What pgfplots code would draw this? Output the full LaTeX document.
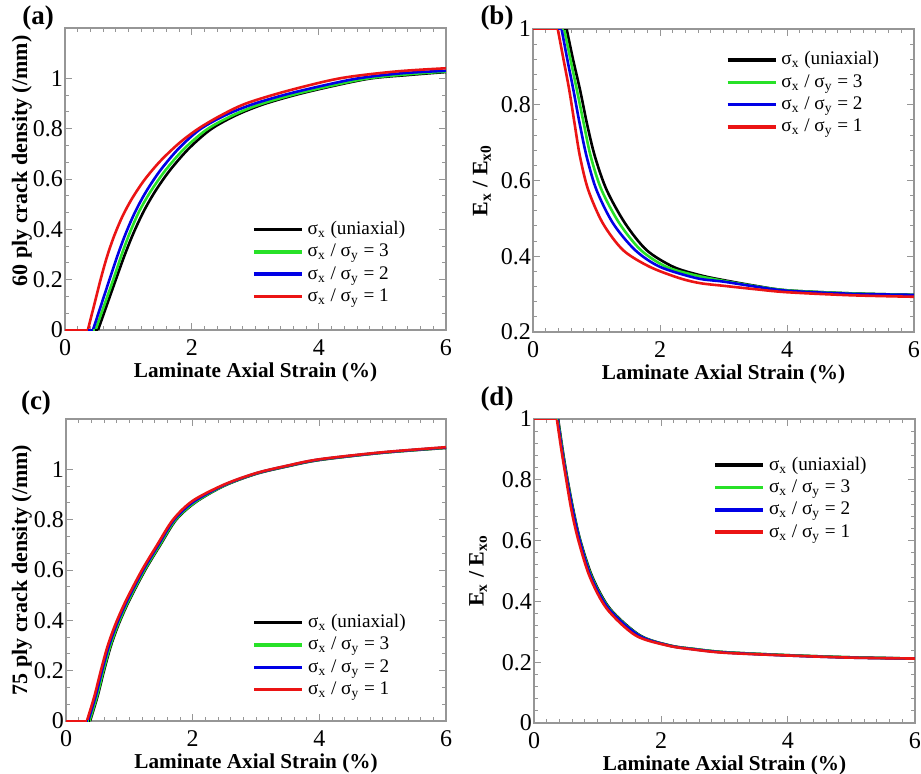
\documentclass[border=0pt]{standalone}
\usepackage{fontspec}
\setmainfont{Liberation Serif}
\usepackage{pgfplots}
\pgfplotsset{compat=1.18}
\definecolor{cg}{RGB}{40,225,40}
\definecolor{cb}{RGB}{0,0,230}
\definecolor{cr}{RGB}{235,20,20}
\definecolor{fr}{RGB}{150,150,150}
\pgfplotsset{
 panel/.style={
  scale only axis, width=190.5pt, height=151pt, anchor=south west,
  xmin=0, xmax=6, xtick={0,2,4,6}, minor x tick num=9,
  axis line style={fr, line width=0.6pt},
  tick style={fr, line width=0.5pt},
  major tick length=3.5pt, minor tick length=1.8pt,
  tick align=inside,
  tick label style={font=\fontsize{12}{12.5}\selectfont, black},
  xticklabel style={yshift=-1.2pt},
  yticklabel style={xshift=2.5pt},
  /pgf/number format/assume math mode=true,
  xlabel={Laminate Axial Strain (\%)},
  xlabel style={font=\fontsize{10.6}{12}\selectfont\bfseries, yshift=3.5pt},
  ylabel style={font=\fontsize{11}{12}\selectfont\bfseries, anchor=center},
  legend cell align=left,
  legend style={draw=none, fill=none, anchor=north west, font=\fontsize{9.6}{11}\selectfont, row sep=-0.7pt, inner sep=0pt},
  legend image code/.code={\draw[line width=1.8pt] (0pt,0pt) -- (24pt,0pt);},
  every axis plot/.append style={line width=1.3pt, line join=round},
 },
 crv/.style={smooth, tension=0.5},
 flat/.style={forget plot},
}
\begin{document}
\begin{tikzpicture}
\useasboundingbox (0,0) rectangle (460.5pt,386.5pt);
\fill[white] (0,0) rectangle (460.5pt,386.5pt);
% (a)
\begin{axis}[panel, at={(32.5pt,221.5pt)}, ymin=0, ymax=1.2, ytick={0,0.2,...,1}, minor y tick num=2,
  ylabel={60 ply crack density (/mm)}, ylabel style={at={(axis description cs:-0.113,0.56)}},
  legend style={at={(0.49,0.375)}}]
\addplot[black,crv] coordinates {(0.52,0)(0.66,0.1)(0.80,0.2)(0.94,0.298)(1.08,0.386)(1.24,0.472)(1.42,0.551)(1.65,0.634)(1.95,0.721)(2.3,0.798)(2.7,0.854)(3.15,0.899)(3.8,0.945)(4.75,0.997)(5.4,1.013)(6,1.025)};
\addplot[cg,crv] coordinates {(0.48,0)(0.62,0.1)(0.76,0.2)(0.89,0.298)(1.02,0.386)(1.17,0.472)(1.35,0.551)(1.58,0.634)(1.88,0.721)(2.24,0.798)(2.65,0.854)(3.1,0.899)(3.75,0.945)(4.7,0.997)(5.4,1.016)(6,1.027)};
\addplot[cb,crv] coordinates {(0.44,0)(0.57,0.1)(0.70,0.2)(0.83,0.298)(0.96,0.386)(1.11,0.472)(1.28,0.551)(1.5,0.634)(1.79,0.721)(2.13,0.798)(2.53,0.854)(2.98,0.899)(3.62,0.945)(4.55,0.997)(5.3,1.02)(6,1.03)};
\addplot[cr,crv] coordinates {(0.36,0)(0.46,0.1)(0.56,0.2)(0.66,0.29)(0.77,0.371)(0.9,0.449)(1.05,0.52)(1.25,0.596)(1.5,0.671)(1.8,0.743)(2.1,0.8)(2.45,0.852)(2.85,0.9)(3.5,0.95)(4.33,1.0)(5.2,1.027)(6,1.04)};
\addplot[black,flat] coordinates {(0,0)(0.52,0)};
\addplot[cg,flat] coordinates {(0,0)(0.48,0)};
\addplot[cb,flat] coordinates {(0,0)(0.44,0)};
\addplot[cr,flat] coordinates {(0,0)(0.36,0)};
\legend{σ\textsubscript{x} (uniaxial), σ\textsubscript{x} / σ\textsubscript{y} = 3, σ\textsubscript{x} / σ\textsubscript{y} = 2, σ\textsubscript{x} / σ\textsubscript{y} = 1}
\end{axis}
% (b)
\begin{axis}[panel, at={(266.5pt,220.5pt)}, height=151.5pt, ymin=0.2, ymax=1, ytick={0.2,0.4,...,1}, minor y tick num=4,
  ylabel={E\textsubscript{x} / E\textsubscript{x0}}, ylabel style={at={(axis description cs:-0.134,0.5)}},
  legend style={at={(0.505,0.94)}}]
\addplot[black,crv] coordinates {(0.53,1)(0.63,0.92)(0.74,0.84)(0.85,0.75)(0.976,0.663)(1.16,0.575)(1.45,0.487)(1.79,0.416)(2.21,0.372)(2.63,0.35)(3.0,0.337)(3.5,0.322)(4,0.31)(5,0.302)(6,0.298)};
\addplot[cg,crv] coordinates {(0.49,1)(0.59,0.92)(0.69,0.84)(0.80,0.75)(0.91,0.663)(1.08,0.575)(1.36,0.487)(1.70,0.416)(2.1,0.372)(2.55,0.35)(3,0.335)(3.5,0.321)(4,0.31)(5,0.302)(6,0.298)};
\addplot[cb,crv] coordinates {(0.45,1)(0.54,0.92)(0.635,0.84)(0.735,0.75)(0.845,0.663)(1.0,0.575)(1.26,0.487)(1.61,0.416)(2.0,0.372)(2.58,0.342)(3,0.333)(3.5,0.32)(4,0.309)(5,0.301)(6,0.298)};
\addplot[cr,crv] coordinates {(0.39,1)(0.48,0.92)(0.57,0.84)(0.655,0.75)(0.74,0.663)(0.87,0.575)(1.10,0.487)(1.42,0.416)(1.84,0.372)(2.31,0.342)(2.63,0.329)(3,0.322)(3.5,0.313)(4,0.305)(5,0.297)(6,0.293)};
\addplot[black,flat] coordinates {(0,1)(0.53,1)};
\addplot[cg,flat] coordinates {(0,1)(0.49,1)};
\addplot[cb,flat] coordinates {(0,1)(0.45,1)};
\addplot[cr,flat] coordinates {(0,1)(0.39,1)};
\legend{σ\textsubscript{x} (uniaxial), σ\textsubscript{x} / σ\textsubscript{y} = 3, σ\textsubscript{x} / σ\textsubscript{y} = 2, σ\textsubscript{x} / σ\textsubscript{y} = 1}
\end{axis}
% (c)
\begin{axis}[panel, at={(33pt,26pt)}, width=190pt, ymin=0, ymax=1.2, ytick={0,0.2,...,1}, minor y tick num=2,
  ylabel={75 ply crack density (/mm)}, ylabel style={at={(axis description cs:-0.116,0.5)}},
  legend style={at={(0.49,0.368)}}]
\addplot[black,crv] coordinates {(0.38,0)(0.5,0.1)(0.6,0.2)(0.71,0.3)(0.84,0.39)(1.0,0.48)(1.25,0.6)(1.49,0.7)(1.74,0.8)(2.05,0.87)(2.5,0.935)(3,0.982)(3.5,1.012)(4,1.037)(5,1.066)(6,1.085)};
\addplot[cg,crv] coordinates {(0.37,0)(0.49,0.1)(0.59,0.2)(0.70,0.3)(0.83,0.39)(0.99,0.48)(1.24,0.6)(1.48,0.7)(1.73,0.8)(2.04,0.87)(2.5,0.936)(3,0.983)(3.5,1.013)(4,1.038)(5,1.066)(6,1.086)};
\addplot[cb,crv] coordinates {(0.35,0)(0.47,0.1)(0.57,0.2)(0.68,0.3)(0.81,0.39)(0.97,0.48)(1.22,0.6)(1.46,0.7)(1.71,0.8)(2.02,0.872)(2.5,0.938)(3,0.984)(3.5,1.014)(4,1.039)(5,1.067)(6,1.087)};
\addplot[cr,crv] coordinates {(0.33,0)(0.45,0.1)(0.55,0.2)(0.66,0.3)(0.79,0.39)(0.95,0.48)(1.2,0.6)(1.44,0.7)(1.69,0.8)(2.0,0.875)(2.5,0.94)(3,0.985)(3.5,1.015)(4,1.04)(5,1.068)(6,1.088)};
\addplot[black,flat] coordinates {(0,0)(0.38,0)};
\addplot[cg,flat] coordinates {(0,0)(0.37,0)};
\addplot[cb,flat] coordinates {(0,0)(0.35,0)};
\addplot[cr,flat] coordinates {(0,0)(0.33,0)};
\legend{σ\textsubscript{x} (uniaxial), σ\textsubscript{x} / σ\textsubscript{y} = 3, σ\textsubscript{x} / σ\textsubscript{y} = 2, σ\textsubscript{x} / σ\textsubscript{y} = 1}
\end{axis}
% (d)
\begin{axis}[panel, at={(267pt,25pt)}, height=152pt, ymin=0, ymax=1, ytick={0,0.2,...,1}, minor y tick num=4,
  ylabel={E\textsubscript{x} / E\textsubscript{xo}}, ylabel style={at={(axis description cs:-0.147,0.5)}},
  legend style={at={(0.47,0.89)}}]
\addplot[black,crv] coordinates {(0.38,1)(0.45,0.9)(0.52,0.81)(0.62,0.70)(0.73,0.6)(0.92,0.48)(1.2,0.375)(1.67,0.288)(2.14,0.255)(2.5,0.244)(3,0.233)(4,0.223)(5,0.216)(6,0.212)};
\addplot[cg,crv] coordinates {(0.375,1)(0.445,0.9)(0.515,0.81)(0.615,0.70)(0.725,0.6)(0.91,0.48)(1.19,0.375)(1.66,0.288)(2.13,0.255)(2.5,0.244)(3,0.233)(4,0.223)(5,0.216)(6,0.212)};
\addplot[cb,crv] coordinates {(0.37,1)(0.44,0.9)(0.51,0.81)(0.61,0.70)(0.72,0.6)(0.90,0.48)(1.18,0.375)(1.65,0.288)(2.12,0.255)(2.5,0.243)(3,0.232)(4,0.222)(5,0.215)(6,0.212)};
\addplot[cr,crv] coordinates {(0.36,1)(0.43,0.9)(0.50,0.81)(0.59,0.70)(0.70,0.6)(0.88,0.48)(1.15,0.375)(1.6,0.288)(2.1,0.255)(2.5,0.242)(3,0.231)(4,0.222)(5,0.215)(6,0.212)};
\addplot[black,flat] coordinates {(0,1)(0.38,1)};
\addplot[cg,flat] coordinates {(0,1)(0.375,1)};
\addplot[cb,flat] coordinates {(0,1)(0.37,1)};
\addplot[cr,flat] coordinates {(0,1)(0.36,1)};
\legend{σ\textsubscript{x} (uniaxial), σ\textsubscript{x} / σ\textsubscript{y} = 3, σ\textsubscript{x} / σ\textsubscript{y} = 2, σ\textsubscript{x} / σ\textsubscript{y} = 1}
\end{axis}
\node[font=\fontsize{13.5}{14}\selectfont\bfseries] at (19pt,377.5pt) {(a)};
\node[font=\fontsize{13.5}{14}\selectfont\bfseries] at (248.5pt,377.5pt) {(b)};
\node[font=\fontsize{13.5}{14}\selectfont\bfseries] at (18pt,185pt) {(c)};
\node[font=\fontsize{13.5}{14}\selectfont\bfseries] at (248.5pt,187pt) {(d)};
\end{tikzpicture}
\end{document}
